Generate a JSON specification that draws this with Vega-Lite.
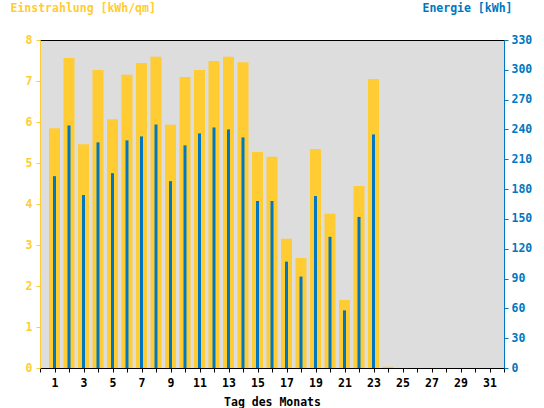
{
  "$schema": "https://vega.github.io/schema/vega-lite/v6.json",
  "autosize": {"type": "none"},
  "width": 464,
  "height": 328,
  "padding": {"left": 40, "top": 40, "right": 40, "bottom": 40},
  "background": "white",
  "data": {
    "values": [
      {"Tag": 1, "Einstrahlung": 5.85, "Energie": 193},
      {"Tag": 2, "Einstrahlung": 7.56, "Energie": 244},
      {"Tag": 3, "Einstrahlung": 5.46, "Energie": 174},
      {"Tag": 4, "Einstrahlung": 7.27, "Energie": 227},
      {"Tag": 5, "Einstrahlung": 6.07, "Energie": 196},
      {"Tag": 6, "Einstrahlung": 7.15, "Energie": 229},
      {"Tag": 7, "Einstrahlung": 7.44, "Energie": 233},
      {"Tag": 8, "Einstrahlung": 7.59, "Energie": 245},
      {"Tag": 9, "Einstrahlung": 5.93, "Energie": 188},
      {"Tag": 10, "Einstrahlung": 7.10, "Energie": 224},
      {"Tag": 11, "Einstrahlung": 7.27, "Energie": 236},
      {"Tag": 12, "Einstrahlung": 7.49, "Energie": 242},
      {"Tag": 13, "Einstrahlung": 7.59, "Energie": 240},
      {"Tag": 14, "Einstrahlung": 7.46, "Energie": 232},
      {"Tag": 15, "Einstrahlung": 5.27, "Energie": 168},
      {"Tag": 16, "Einstrahlung": 5.15, "Energie": 168},
      {"Tag": 17, "Einstrahlung": 3.15, "Energie": 107},
      {"Tag": 18, "Einstrahlung": 2.68, "Energie": 92},
      {"Tag": 19, "Einstrahlung": 5.34, "Energie": 173},
      {"Tag": 20, "Einstrahlung": 3.76, "Energie": 132},
      {"Tag": 21, "Einstrahlung": 1.66, "Energie": 58},
      {"Tag": 22, "Einstrahlung": 4.44, "Energie": 152},
      {"Tag": 23, "Einstrahlung": 7.05, "Energie": 235},
      {"Tag": 24, "Einstrahlung": 0.03, "Energie": 0}
    ]
  },
  "encoding": {
    "x": {
      "field": "Tag",
      "type": "quantitative",
      "scale": {"domain": [0, 32], "nice": false, "zero": false, "padding": 0},
      "axis": {
        "title": "Tag des Monats",
        "values": [0, 1, 2, 3, 4, 5, 6, 7, 8, 9, 10, 11, 12, 13, 14, 15, 16, 17, 18, 19, 20, 21, 22, 23, 24, 25, 26, 27, 28, 29, 30, 31, 32],
        "labelExpr": "datum.value % 2 == 1 ? datum.value : ''",
        "labelFlush": false,
        "labelOverlap": false,
        "labelPadding": 5,
        "tickSize": 4,
        "domainColor": "black",
        "tickColor": "black",
        "labelColor": "black",
        "titleColor": "black",
        "titlePadding": 8,
        "grid": false
      }
    }
  },
  "layer": [
    {
      "mark": {"type": "bar", "width": 11, "color": "#FFCC33"},
      "encoding": {
        "y": {
          "field": "Einstrahlung",
          "type": "quantitative",
          "scale": {"domain": [0, 8], "nice": false},
          "axis": {
            "orient": "left",
            "title": "Einstrahlung [kWh/qm]",
            "values": [0, 1, 2, 3, 4, 5, 6, 7, 8],
            "labelOverlap": false,
            "labelFlush": false,
            "grid": false,
            "domainColor": "#FFCC33",
            "tickColor": "#FFCC33",
            "labelColor": "#FFCC33",
            "titleColor": "#FFCC33",
            "tickSize": 4,
            "labelPadding": 4,
            "titleAngle": 0,
            "titleAlign": "left",
            "titleBaseline": "top",
            "titleX": -30,
            "titleY": -38
          }
        }
      }
    },
    {
      "mark": {"type": "bar", "width": 3, "color": "#0077C0"},
      "encoding": {
        "y": {
          "field": "Energie",
          "type": "quantitative",
          "scale": {"domain": [0, 330], "nice": false},
          "axis": {
            "orient": "right",
            "title": "Energie [kWh]",
            "values": [0, 30, 60, 90, 120, 150, 180, 210, 240, 270, 300, 330],
            "labelOverlap": false,
            "labelFlush": false,
            "grid": false,
            "domainColor": "#0077C0",
            "tickColor": "#0077C0",
            "labelColor": "#0077C0",
            "titleColor": "#0077C0",
            "tickSize": 4,
            "labelPadding": 3,
            "titleAngle": 0,
            "titleAlign": "right",
            "titleBaseline": "top",
            "titleX": 8,
            "titleY": -38
          }
        }
      }
    }
  ],
  "resolve": {"scale": {"y": "independent"}},
  "config": {
    "view": {"fill": "#DDDDDD", "stroke": "black", "strokeWidth": 1},
    "font": "DejaVu Sans Mono",
    "axis": {
      "labelFont": "DejaVu Sans Mono",
      "titleFont": "DejaVu Sans Mono",
      "labelFontSize": 11.5,
      "titleFontSize": 11.5,
      "labelFontWeight": "bold",
      "titleFontWeight": "bold",
      "domainWidth": 1,
      "tickWidth": 1
    }
  }
}
